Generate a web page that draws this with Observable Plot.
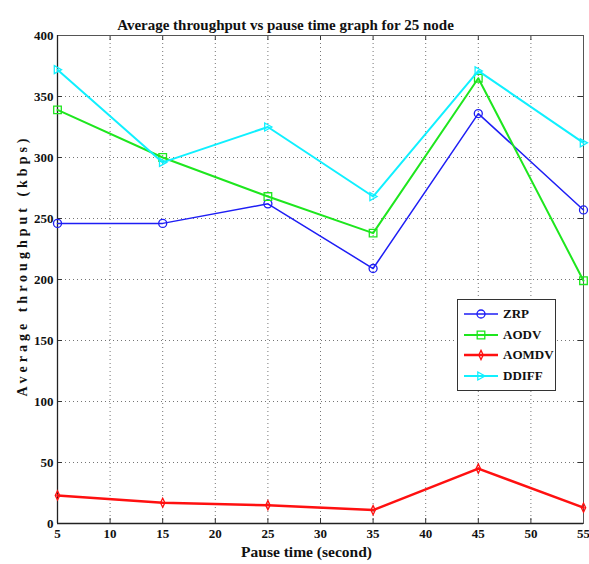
<!DOCTYPE html>
<html>
<head>
<meta charset="utf-8">
<script src="https://cdn.jsdelivr.net/npm/d3@7"></script>
<script src="https://cdn.jsdelivr.net/npm/@observablehq/plot@0.6"></script>
<style>
  body { margin: 0; background: #fff; }
  #chart { position: relative; width: 589px; height: 564px; }
  .legend {
    position: absolute; left: 457px; top: 299px; width: 99px; height: 92px;
    box-sizing: border-box; border: 1px solid #333; background: #fff;
    font-family: "Liberation Serif", "DejaVu Serif", serif; font-weight: bold; font-size: 13px; color: #111;
    padding-top: 4px;
  }
  .legend .row { display: flex; align-items: center; height: 20.5px; }
  .legend svg { display: block; margin-left: 5px; margin-right: 4px; }
</style>
</head>
<body>
<div id="chart"></div>
<script>
// Pause time (s) on x, average throughput (kbps) on y
const pauseTimes = [5, 15, 25, 35, 45, 55];
const protocols = ["ZRP", "AODV", "AOMDV", "DDIFF"];
const zrp   = [246, 246, 262, 209, 336, 257];
const aodv  = [339, 300, 268, 238, 365, 199];
const aomdv = [23, 17, 15, 11, 45, 13];
const ddiff = [372, 296, 325, 268, 371, 312];
const xTicks = [5, 10, 15, 20, 25, 30, 35, 40, 45, 50, 55];
const yTicks = [0, 50, 100, 150, 200, 250, 300, 350, 400];

const colors = ["#1e1ef5", "#1ee61e", "#ff1010", "#10f0ff"];
const widths = [1.5, 2, 2.5, 2];

// Marker shapes (stroked outlines)
const triangleRight = {
  draw(ctx, size) {
    const r = Math.sqrt(size / Math.PI);
    ctx.moveTo(-r * 0.8, -r);
    ctx.lineTo(r * 1.0, 0);
    ctx.lineTo(-r * 0.8, r);
    ctx.closePath();
  }
};
const thinDiamond = {
  draw(ctx, size) {
    const r = Math.sqrt(size / Math.PI);
    ctx.moveTo(0, -r * 1.15);
    ctx.lineTo(r * 0.55, 0);
    ctx.lineTo(0, r * 1.15);
    ctx.lineTo(-r * 0.55, 0);
    ctx.closePath();
  }
};
const boxSquare = {
  draw(ctx, size) {
    const r = Math.sqrt(size / Math.PI) * 0.95;
    ctx.rect(-r, -r, 2 * r, 2 * r);
  }
};
const symbols = [d3.symbolCircle, boxSquare, thinDiamond, triangleRight];

const seriesValues = [zrp, aodv, aomdv, ddiff];
const rows = protocols.flatMap((p, i) =>
  pauseTimes.map((t, j) => ({protocol: p, time: t, value: seriesValues[i][j]}))
);

const W = 589, H = 564;
const mTop = 35, mBottom = 41, mLeft = 57, mRight = 6;
const innerW = W - mLeft - mRight, innerH = H - mTop - mBottom;
const font = "'Liberation Serif', 'DejaVu Serif', serif";

const seriesMarks = protocols.flatMap((p, i) => {
  const data = rows.filter(d => d.protocol === p);
  return [
    Plot.line(data, {x: "time", y: "value", stroke: colors[i], strokeWidth: widths[i]}),
    Plot.dot(data, {x: "time", y: "value", stroke: colors[i], fill: "none", strokeWidth: 1.3, r: 4, symbol: () => symbols[i]})
  ];
});

const chart = Plot.plot({
  width: W, height: H,
  marginTop: mTop, marginBottom: mBottom, marginLeft: mLeft, marginRight: mRight,
  x: {domain: [5, 55]},
  y: {domain: [0, 400]},
  style: {fontFamily: font, background: "white", color: "#111"},
  marks: [
    Plot.gridX(xTicks, {stroke: "#666", strokeOpacity: 0.9, strokeDasharray: "1,3", strokeWidth: 1}),
    Plot.gridY(yTicks, {stroke: "#666", strokeOpacity: 0.9, strokeDasharray: "1,3", strokeWidth: 1}),
    // inward ticks on all four sides
    Plot.tickX(xTicks, {x: d => d, insetTop: innerH - 5, stroke: "#333"}),
    Plot.tickX(xTicks, {x: d => d, insetBottom: innerH - 5, stroke: "#333"}),
    Plot.tickY(yTicks, {y: d => d, insetRight: innerW - 5, stroke: "#333"}),
    Plot.tickY(yTicks, {y: d => d, insetLeft: innerW - 5, stroke: "#333"}),
    Plot.frame({stroke: "#555", strokeWidth: 1}),
    Plot.ruleX([5], {stroke: "#222", strokeWidth: 1.3}),
    Plot.ruleY([0], {stroke: "#222", strokeWidth: 1.3}),
    Plot.axisX(xTicks, {tickSize: 0, tickPadding: 5, fontSize: 13, fontWeight: "bold", fontFamily: font, label: null}),
    Plot.axisY(yTicks, {tickSize: 0, tickPadding: 4, fontSize: 13, fontWeight: "bold", fontFamily: font, label: null}),
    ...seriesMarks,
    Plot.text(["Average throughput vs pause time graph for 25 node"], {
      frameAnchor: "top", dx: -35, dy: -16, fontSize: 15, fontWeight: "bold", fontFamily: font, fill: "#111"
    }),
    Plot.text(["Pause time (second)"], {
      frameAnchor: "bottom", dx: -14, dy: 33, fontSize: 15.5, fontWeight: "bold", fontFamily: font, fill: "#111"
    }),
    Plot.text(["Average throughput (kbps)"], {
      frameAnchor: "left", textAnchor: "middle", dx: -35, dy: -14, rotate: -90,
      fontSize: 14, fontWeight: "bold", fontFamily: font, fill: "#111"
    })
  ]
});

d3.select(chart).selectAll("text")
  .filter(function () { return this.textContent === "Average throughput (kbps)"; })
  .style("letter-spacing", "4px");

const container = document.getElementById("chart");
container.appendChild(chart);

// Legend box inside the plot area
const legend = d3.select(container).append("div").attr("class", "legend");
protocols.forEach((p, i) => {
  const row = legend.append("div").attr("class", "row");
  const s = row.append("svg").attr("width", 36).attr("height", 12);
  s.append("line").attr("x1", 1).attr("x2", 35).attr("y1", 6).attr("y2", 6)
    .attr("stroke", colors[i]).attr("stroke-width", widths[i]);
  s.append("path").attr("transform", "translate(18,6)")
    .attr("d", d3.symbol(symbols[i], 16 * Math.PI)())
    .attr("fill", "none").attr("stroke", colors[i]).attr("stroke-width", 1.3);
  row.append("span").text(p);
});
</script>
</body>
</html>
